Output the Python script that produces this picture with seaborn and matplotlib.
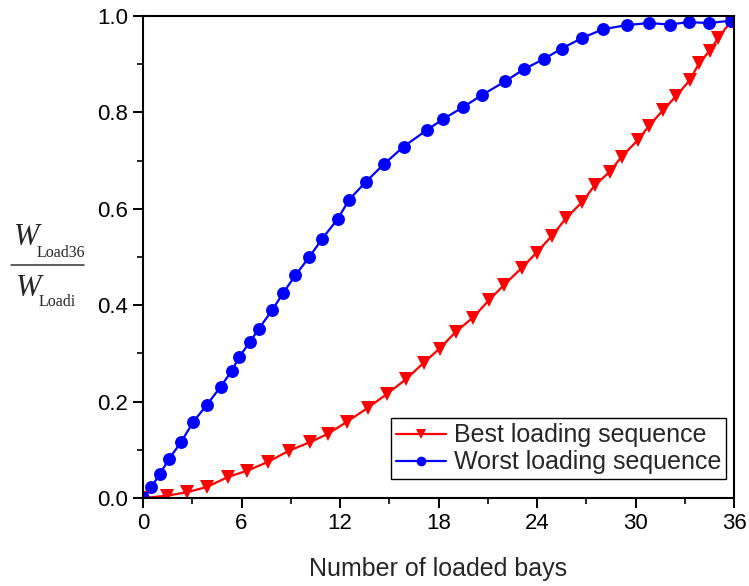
import numpy as np
import pandas as pd
import matplotlib
matplotlib.use("Agg")
import matplotlib.pyplot as plt
from matplotlib.lines import Line2D
from matplotlib.ticker import MultipleLocator
import seaborn as sns

# Best loading sequence (red, down triangles)
best_x = [0.0, 1.44, 2.66, 3.88, 5.19, 6.35, 7.61, 8.87, 10.17, 11.25, 12.41, 13.68,
          14.86, 16.0, 17.11, 18.06, 19.06, 20.08, 21.09, 21.99, 23.06, 23.97, 24.91,
          25.76, 26.72, 27.53, 28.44, 29.15, 30.16, 30.82, 31.69, 32.46, 33.31, 33.88,
          34.53, 35.04, 35.8]
best_y = [0.0, 0.005, 0.012, 0.023, 0.044, 0.057, 0.075, 0.098, 0.116, 0.133, 0.158, 0.187,
          0.216, 0.246, 0.281, 0.310, 0.345, 0.374, 0.411, 0.442, 0.477, 0.509, 0.544,
          0.580, 0.613, 0.649, 0.677, 0.708, 0.743, 0.772, 0.805, 0.833, 0.867, 0.902,
          0.928, 0.954, 0.988]

# Worst loading sequence (blue, circles)
worst_x = [0.0, 0.49, 1.02, 1.60, 2.31, 3.06, 3.90, 4.73, 5.40, 5.86, 6.52, 7.05, 7.87,
           8.53, 9.28, 10.13, 10.92, 11.86, 12.56, 13.58, 14.66, 15.88, 17.28, 18.29,
           19.51, 20.66, 22.05, 23.19, 24.44, 25.50, 26.74, 28.01, 29.49, 30.82, 32.08,
           33.23, 34.49, 35.8]
worst_y = [0.0, 0.022, 0.050, 0.082, 0.116, 0.158, 0.194, 0.231, 0.264, 0.293, 0.324, 0.351,
           0.390, 0.425, 0.462, 0.500, 0.538, 0.579, 0.619, 0.656, 0.692, 0.729, 0.763,
           0.786, 0.811, 0.836, 0.864, 0.889, 0.911, 0.932, 0.954, 0.972, 0.981, 0.985,
           0.982, 0.987, 0.985, 0.990]

x_ticks = [0, 6, 12, 18, 24, 30, 36]
y_ticks = [0.0, 0.2, 0.4, 0.6, 0.8, 1.0]

sns.set_style("ticks")
plt.rcParams["font.family"] = ["Liberation Sans", "DejaVu Sans"]

W, H = 749, 586
fig = plt.figure(figsize=(W / 100, H / 100), dpi=100)
ax = fig.add_axes([0.191, 0.150, 0.789, 0.823])

best = pd.DataFrame({"x": best_x, "y": best_y})
worst = pd.DataFrame({"x": worst_x, "y": worst_y})

sns.lineplot(data=best, x="x", y="y", ax=ax, sort=False, color="#ff0000", lw=1.6,
             marker="v", markersize=9.5, markeredgewidth=0, label="Best loading sequence")
sns.lineplot(data=worst, x="x", y="y", ax=ax, sort=False, color="#0000ff", lw=1.6,
             marker="o", markersize=9.3, markeredgewidth=0, label="Worst loading sequence")

ax.set_xlim(0, 36)
ax.set_ylim(0, 1.0)
ax.set_xticks(x_ticks)
ax.set_yticks(y_ticks)
ax.set_yticklabels([f"{v:.1f}" for v in y_ticks])
ax.xaxis.set_minor_locator(MultipleLocator(3))
ax.yaxis.set_minor_locator(MultipleLocator(0.1))
ax.tick_params(which="major", direction="out", length=7, width=1.4, labelsize=16,
               colors="black", pad=4)
ax.tick_params(which="minor", direction="out", length=4, width=1.4)
for s in ax.spines.values():
    s.set_linewidth(1.5)
    s.set_color("black")
    s.set_visible(True)

ax.set_xlabel("Number of loaded bays", fontsize=18, labelpad=16)
ax.set_ylabel("")

# Y-axis label: the ratio W_Load36 / W_Loadi, set as a stacked fraction
def fpos(px, py):
    return px / W, 1 - py / H

serif = ["Liberation Serif", "DejaVu Serif"]
fig.text(*fpos(14, 245), "W", fontsize=22, style="italic", family=serif, va="baseline")
fig.text(*fpos(37, 257), "Load36", fontsize=11.5, family=serif, va="baseline")
fig.add_artist(Line2D([11 / W, 84 / W], [1 - 264.7 / H, 1 - 264.7 / H],
                      transform=fig.transFigure, color="#333333", lw=1.1))
fig.text(*fpos(16, 296), "W", fontsize=22, style="italic", family=serif, va="baseline")
fig.text(*fpos(39, 306), "Loadi", fontsize=11.5, family=serif, va="baseline")

leg = ax.legend(loc="lower right", bbox_to_anchor=(0.9865, 0.039), fontsize=18,
                frameon=True, fancybox=False, edgecolor="black", framealpha=1,
                handlelength=2.0, borderpad=0.2, labelspacing=0.12, handletextpad=0.3,
                borderaxespad=0, markerscale=0.75)
leg.get_frame().set_linewidth(1.0)

fig.savefig("out.png", dpi=100)
